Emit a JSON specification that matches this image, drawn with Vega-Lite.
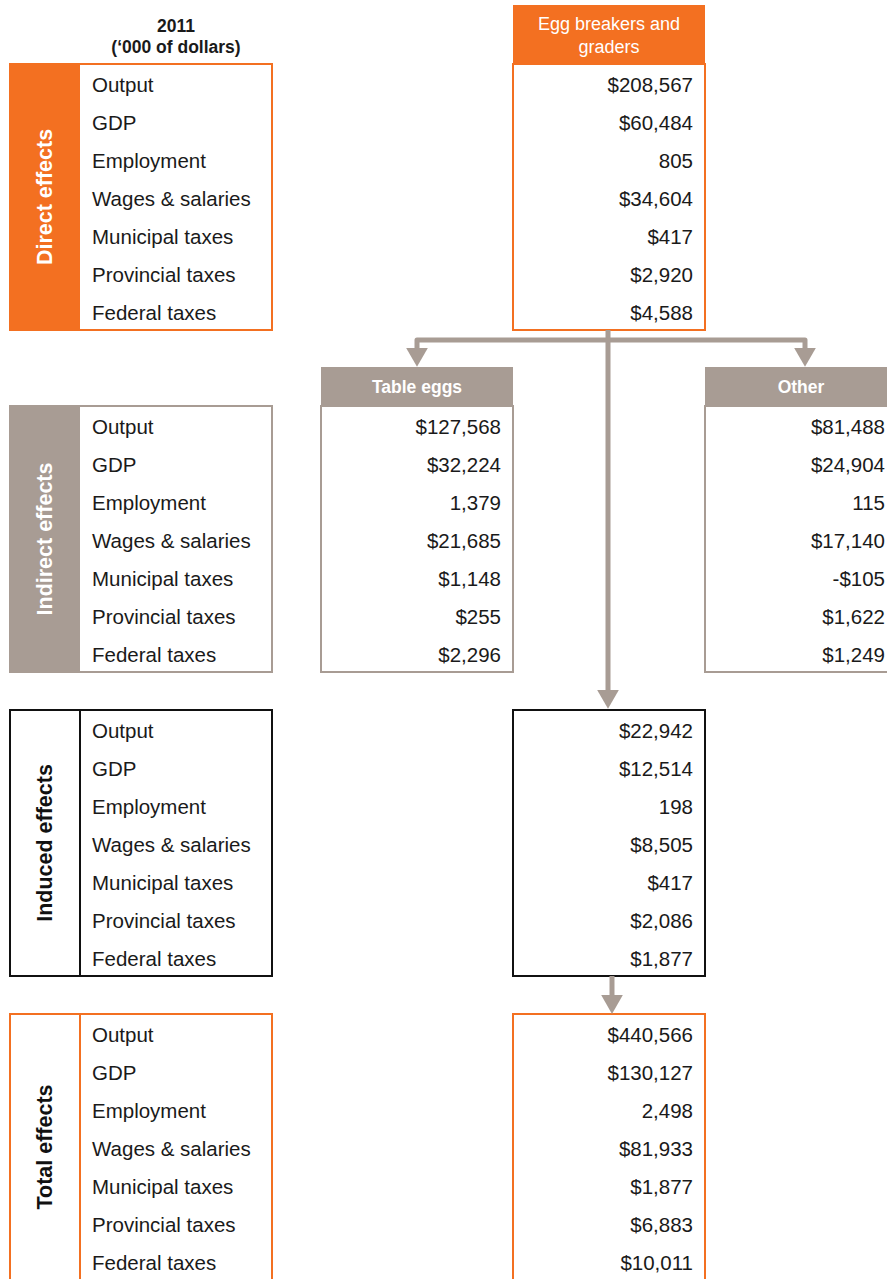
{
  "$schema": "https://vega.github.io/schema/vega-lite/v6.json",
  "width": 887,
  "height": 1279,
  "padding": 0,
  "autosize": {"type": "none"},
  "background": "white",
  "config": {
    "view": {"stroke": null},
    "font": "Liberation Sans",
    "locale": {"number": {"decimal": ".", "thousands": ",", "grouping": [3], "currency": ["$", ""], "minus": "-"}}
  },
  "datasets": {
    "cells": [
      {"section": "Direct", "slot": 0, "metric": "Output", "col": "Egg breakers", "value": 208567},
      {"section": "Direct", "slot": 1, "metric": "GDP", "col": "Egg breakers", "value": 60484},
      {"section": "Direct", "slot": 2, "metric": "Employment", "col": "Egg breakers", "value": 805},
      {"section": "Direct", "slot": 3, "metric": "Wages & salaries", "col": "Egg breakers", "value": 34604},
      {"section": "Direct", "slot": 4, "metric": "Municipal taxes", "col": "Egg breakers", "value": 417},
      {"section": "Direct", "slot": 5, "metric": "Provincial taxes", "col": "Egg breakers", "value": 2920},
      {"section": "Direct", "slot": 6, "metric": "Federal taxes", "col": "Egg breakers", "value": 4588},
      {"section": "Indirect", "slot": 9, "metric": "Output", "col": "Table eggs", "value": 127568},
      {"section": "Indirect", "slot": 10, "metric": "GDP", "col": "Table eggs", "value": 32224},
      {"section": "Indirect", "slot": 11, "metric": "Employment", "col": "Table eggs", "value": 1379},
      {"section": "Indirect", "slot": 12, "metric": "Wages & salaries", "col": "Table eggs", "value": 21685},
      {"section": "Indirect", "slot": 13, "metric": "Municipal taxes", "col": "Table eggs", "value": 1148},
      {"section": "Indirect", "slot": 14, "metric": "Provincial taxes", "col": "Table eggs", "value": 255},
      {"section": "Indirect", "slot": 15, "metric": "Federal taxes", "col": "Table eggs", "value": 2296},
      {"section": "Indirect", "slot": 9, "metric": "Output", "col": "Other", "value": 81488},
      {"section": "Indirect", "slot": 10, "metric": "GDP", "col": "Other", "value": 24904},
      {"section": "Indirect", "slot": 11, "metric": "Employment", "col": "Other", "value": 115},
      {"section": "Indirect", "slot": 12, "metric": "Wages & salaries", "col": "Other", "value": 17140},
      {"section": "Indirect", "slot": 13, "metric": "Municipal taxes", "col": "Other", "value": -105},
      {"section": "Indirect", "slot": 14, "metric": "Provincial taxes", "col": "Other", "value": 1622},
      {"section": "Indirect", "slot": 15, "metric": "Federal taxes", "col": "Other", "value": 1249},
      {"section": "Induced", "slot": 17, "metric": "Output", "col": "Egg breakers", "value": 22942},
      {"section": "Induced", "slot": 18, "metric": "GDP", "col": "Egg breakers", "value": 12514},
      {"section": "Induced", "slot": 19, "metric": "Employment", "col": "Egg breakers", "value": 198},
      {"section": "Induced", "slot": 20, "metric": "Wages & salaries", "col": "Egg breakers", "value": 8505},
      {"section": "Induced", "slot": 21, "metric": "Municipal taxes", "col": "Egg breakers", "value": 417},
      {"section": "Induced", "slot": 22, "metric": "Provincial taxes", "col": "Egg breakers", "value": 2086},
      {"section": "Induced", "slot": 23, "metric": "Federal taxes", "col": "Egg breakers", "value": 1877},
      {"section": "Total", "slot": 25, "metric": "Output", "col": "Egg breakers", "value": 440566},
      {"section": "Total", "slot": 26, "metric": "GDP", "col": "Egg breakers", "value": 130127},
      {"section": "Total", "slot": 27, "metric": "Employment", "col": "Egg breakers", "value": 2498},
      {"section": "Total", "slot": 28, "metric": "Wages & salaries", "col": "Egg breakers", "value": 81933},
      {"section": "Total", "slot": 29, "metric": "Municipal taxes", "col": "Egg breakers", "value": 1877},
      {"section": "Total", "slot": 30, "metric": "Provincial taxes", "col": "Egg breakers", "value": 6883},
      {"section": "Total", "slot": 31, "metric": "Federal taxes", "col": "Egg breakers", "value": 10011}
    ],
    "sections": [
      {"section": "Direct", "label": "Direct effects", "mid": 3},
      {"section": "Indirect", "label": "Indirect effects", "mid": 12},
      {"section": "Induced", "label": "Induced effects", "mid": 20},
      {"section": "Total", "label": "Total effects", "mid": 28}
    ],
    "fills": [
      {"section": "Direct", "x1": 10, "x2": 80, "s1": -0.5, "s2": 6.5},
      {"section": "Direct", "x1": 513, "x2": 705, "s1": -2.053, "s2": -0.5},
      {"section": "Indirect", "x1": 10, "x2": 80, "s1": 8.5, "s2": 15.5},
      {"section": "Indirect", "x1": 321, "x2": 513, "s1": 7.474, "s2": 8.5},
      {"section": "Indirect", "x1": 705, "x2": 897, "s1": 7.474, "s2": 8.5}
    ],
    "boxes": [
      {"section": "Direct", "x1": 10, "x2": 272, "s1": -0.5, "s2": 6.5},
      {"section": "Direct", "x1": 513, "x2": 705, "s1": -0.5, "s2": 6.5},
      {"section": "Indirect", "x1": 10, "x2": 272, "s1": 8.5, "s2": 15.5},
      {"section": "Indirect", "x1": 321, "x2": 513, "s1": 8.5, "s2": 15.5},
      {"section": "Indirect", "x1": 705, "x2": 897, "s1": 8.5, "s2": 15.5},
      {"section": "Induced", "x1": 10, "x2": 80, "s1": 16.5, "s2": 23.5},
      {"section": "Induced", "x1": 80, "x2": 272, "s1": 16.5, "s2": 23.5},
      {"section": "Induced", "x1": 513, "x2": 705, "s1": 16.5, "s2": 23.5},
      {"section": "Total", "x1": 10, "x2": 80, "s1": 24.5, "s2": 31.6},
      {"section": "Total", "x1": 80, "x2": 272, "s1": 24.5, "s2": 31.6},
      {"section": "Total", "x1": 513, "x2": 705, "s1": 24.5, "s2": 31.6}
    ],
    "arrows": [
      {"path": "main", "ord": 0, "x": 608, "s": 6.5},
      {"path": "main", "ord": 1, "x": 608, "s": 16.0},
      {"path": "branch", "ord": 0, "x": 417, "s": 7.05},
      {"path": "branch", "ord": 1, "x": 417, "s": 6.763},
      {"path": "branch", "ord": 2, "x": 805, "s": 6.763},
      {"path": "branch", "ord": 3, "x": 805, "s": 7.05},
      {"path": "lower", "ord": 0, "x": 612, "s": 23.5},
      {"path": "lower", "ord": 1, "x": 612, "s": 24.1}
    ],
    "heads": [
      {"x": 608, "s": 16.22},
      {"x": 417, "s": 7.22},
      {"x": 805, "s": 7.22},
      {"x": 612, "s": 24.25}
    ],
    "titles": [
      {"text": "2011", "x": 176, "s": -1.342},
      {"text": "(‘000 of dollars)", "x": 176, "s": -0.789}
    ],
    "colheads": [
      {"text": "Egg breakers and", "x": 609, "s": -1.395},
      {"text": "graders", "x": 609, "s": -0.789}
    ],
    "subheads": [
      {"text": "Table eggs", "x": 417, "s": 8.158},
      {"text": "Other", "x": 801, "s": 8.158}
    ]
  },
  "resolve": {"scale": {"x": "independent"}},
  "layer": [
    {
      "data": {"name": "fills"},
      "mark": {"type": "rect", "clip": true},
      "encoding": {
        "x": {"field": "x1", "type": "quantitative", "scale": {"domain": [0, 887], "nice": false, "zero": false}, "axis": null},
        "x2": {"field": "x2"},
        "y": {"field": "s1", "type": "quantitative", "scale": {"domain": [-2.1842, 31.4737], "reverse": true, "nice": false, "zero": false}, "axis": null},
        "y2": {"field": "s2"},
        "fill": {"field": "section", "type": "nominal", "scale": {"domain": ["Direct", "Indirect", "Induced", "Total"], "range": ["#F37021", "#A89C94", "#111111", "#F37021"]}, "legend": null}
      }
    },
    {
      "data": {"name": "boxes"},
      "mark": {"type": "rect", "filled": false, "strokeWidth": 2, "clip": true},
      "encoding": {
        "x": {"field": "x1", "type": "quantitative", "scale": {"domain": [0, 887], "nice": false, "zero": false}, "axis": null},
        "x2": {"field": "x2"},
        "y": {"field": "s1", "type": "quantitative", "scale": {"domain": [-2.1842, 31.4737], "reverse": true, "nice": false, "zero": false}, "axis": null},
        "y2": {"field": "s2"},
        "stroke": {"field": "section", "type": "nominal", "scale": {"domain": ["Direct", "Indirect", "Induced", "Total"], "range": ["#F37021", "#A89C94", "#111111", "#F37021"]}, "legend": null}
      }
    },
    {
      "data": {"name": "arrows"},
      "mark": {"type": "line", "color": "#A89C94", "strokeWidth": 5, "strokeJoin": "round"},
      "encoding": {
        "x": {"field": "x", "type": "quantitative", "scale": {"domain": [0, 887], "nice": false, "zero": false}, "axis": null},
        "y": {"field": "s", "type": "quantitative", "scale": {"domain": [-2.1842, 31.4737], "reverse": true, "nice": false, "zero": false}, "axis": null},
        "detail": {"field": "path", "type": "nominal"},
        "order": {"field": "ord", "type": "quantitative"}
      }
    },
    {
      "data": {"name": "heads"},
      "mark": {"type": "point", "shape": "triangle-down", "size": 470, "filled": true, "color": "#A89C94", "opacity": 1, "strokeWidth": 0},
      "encoding": {
        "x": {"field": "x", "type": "quantitative", "scale": {"domain": [0, 887], "nice": false, "zero": false}, "axis": null},
        "y": {"field": "s", "type": "quantitative", "scale": {"domain": [-2.1842, 31.4737], "reverse": true, "nice": false, "zero": false}, "axis": null}
      }
    },
    {
      "data": {"name": "titles"},
      "mark": {"type": "text", "font": "Liberation Sans", "fontWeight": "bold", "fontSize": 17.5, "align": "center", "baseline": "alphabetic", "color": "#1a1a1a"},
      "encoding": {
        "x": {"field": "x", "type": "quantitative", "scale": {"domain": [0, 887], "nice": false, "zero": false}, "axis": null},
        "y": {"field": "s", "type": "quantitative", "scale": {"domain": [-2.1842, 31.4737], "reverse": true, "nice": false, "zero": false}, "axis": null},
        "text": {"field": "text", "type": "nominal"}
      }
    },
    {
      "data": {"name": "colheads"},
      "mark": {"type": "text", "font": "Liberation Sans", "fontSize": 18, "align": "center", "baseline": "alphabetic", "color": "white"},
      "encoding": {
        "x": {"field": "x", "type": "quantitative", "scale": {"domain": [0, 887], "nice": false, "zero": false}, "axis": null},
        "y": {"field": "s", "type": "quantitative", "scale": {"domain": [-2.1842, 31.4737], "reverse": true, "nice": false, "zero": false}, "axis": null},
        "text": {"field": "text", "type": "nominal"}
      }
    },
    {
      "data": {"name": "subheads"},
      "mark": {"type": "text", "font": "Liberation Sans", "fontWeight": "bold", "fontSize": 17.5, "align": "center", "baseline": "alphabetic", "color": "white"},
      "encoding": {
        "x": {"field": "x", "type": "quantitative", "scale": {"domain": [0, 887], "nice": false, "zero": false}, "axis": null},
        "y": {"field": "s", "type": "quantitative", "scale": {"domain": [-2.1842, 31.4737], "reverse": true, "nice": false, "zero": false}, "axis": null},
        "text": {"field": "text", "type": "nominal"}
      }
    },
    {
      "data": {"name": "sections"},
      "mark": {"type": "text", "font": "Liberation Sans", "fontWeight": "bold", "fontSize": 21.5, "align": "center", "baseline": "middle", "angle": 270},
      "encoding": {
        "x": {"datum": 46, "type": "quantitative", "scale": {"domain": [0, 887], "nice": false, "zero": false}, "axis": null},
        "y": {"field": "mid", "type": "quantitative", "scale": {"domain": [-2.1842, 31.4737], "reverse": true, "nice": false, "zero": false}, "axis": null},
        "text": {"field": "label", "type": "nominal"},
        "color": {"field": "section", "type": "nominal", "scale": {"domain": ["Direct", "Indirect", "Induced", "Total"], "range": ["#ffffff", "#ffffff", "#111111", "#111111"]}, "legend": null}
      }
    },
    {
      "data": {"name": "cells"},
      "transform": [{"filter": "datum.col !== 'Other'"}],
      "mark": {"type": "text", "font": "Liberation Sans", "fontSize": 20.5, "align": "left", "baseline": "alphabetic", "dy": 9, "color": "#1a1a1a"},
      "encoding": {
        "x": {"datum": 92, "type": "quantitative", "scale": {"domain": [0, 887], "nice": false, "zero": false}, "axis": null},
        "y": {"field": "slot", "type": "quantitative", "scale": {"domain": [-2.1842, 31.4737], "reverse": true, "nice": false, "zero": false}, "axis": null},
        "text": {"field": "metric", "type": "nominal"}
      }
    },
    {
      "data": {"name": "cells"},
      "mark": {"type": "text", "font": "Liberation Sans", "fontSize": 20.5, "align": "right", "baseline": "alphabetic", "dy": 9, "color": "#1a1a1a"},
      "encoding": {
        "x": {"field": "col", "type": "nominal", "scale": {"type": "point", "domain": ["Table eggs", "Egg breakers", "Other"], "range": [501, 885], "padding": 0}, "axis": null},
        "y": {"field": "slot", "type": "quantitative", "scale": {"domain": [-2.1842, 31.4737], "reverse": true, "nice": false, "zero": false}, "axis": null},
        "text": {
          "condition": {"test": "datum.metric === 'Employment'", "field": "value", "type": "quantitative", "format": ",d"},
          "field": "value", "type": "quantitative", "format": "$,d"
        }
      }
    }
  ]
}
